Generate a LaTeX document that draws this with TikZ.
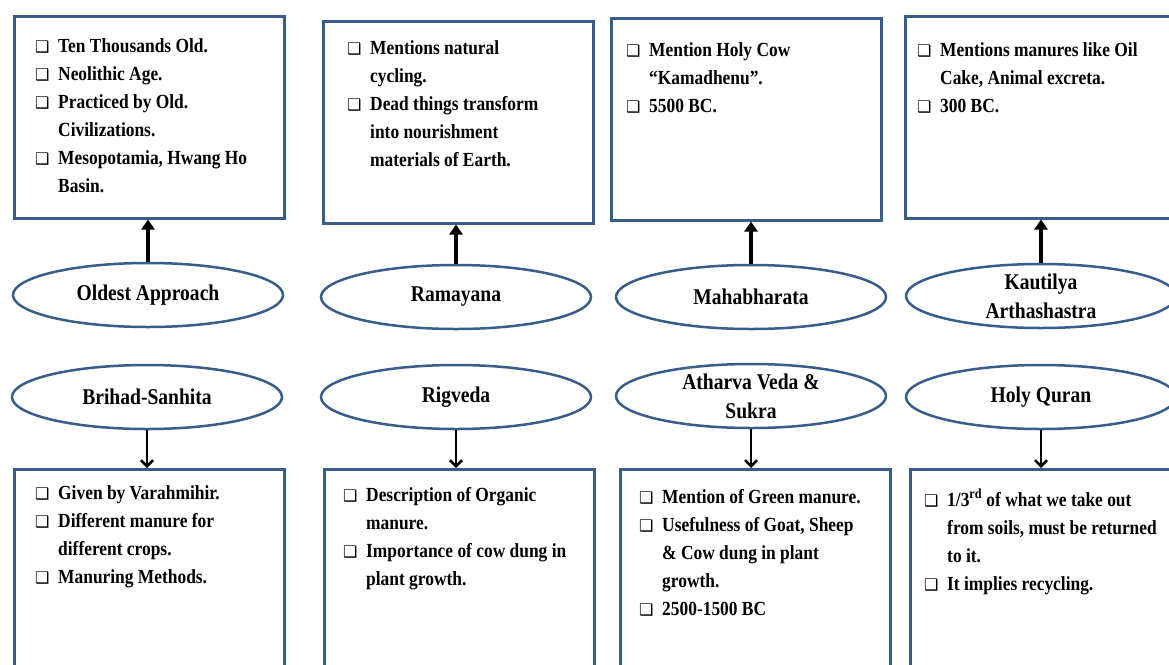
\documentclass[tikz,border=0pt]{standalone}
\usepackage{fontspec}
\setmainfont{Liberation Serif}[FakeStretch=0.87]
\newfontfamily\dejavu{DejaVu Sans}
\usetikzlibrary{shapes.geometric,arrows.meta}
\definecolor{edge}{RGB}{56,93,138}
\newcommand\bx{\makebox[23pt][l]{\raisebox{-0.5pt}{\dejavu\fontsize{16}{16}\selectfont ❑}}}
\newcommand\ind{\hspace*{23pt}}
\begin{document}
\begin{tikzpicture}[x=1pt,y=-1pt,
  box/.style={draw=edge, line width=2.5pt, fill=white, minimum width=270pt, minimum height=202pt, inner sep=0pt, anchor=north west},
  lowbox/.style={box, minimum height=215pt},
  oval/.style={ellipse, draw=edge, line width=2.5pt, fill=white, minimum width=270pt, minimum height=64pt, inner sep=0pt, align=center, font=\fontsize{22.5}{29}\selectfont\bfseries},
  txt/.style={anchor=north west, inner sep=0pt, align=left, font=\fontsize{20}{28}\selectfont\bfseries},
  uparr/.style={line width=3.2pt, -{Triangle[length=10pt,width=13pt]}},
  downarr/.style={line width=2.6pt, -{Straight Barb[length=6pt,width=12pt]}}]
\useasboundingbox (0,0) rectangle (1169,664);
\clip (0,0) rectangle (1169,664);
\fill[white] (0,0) rectangle (1169,664);
% top boxes
\node[box] (b1) at (13,15) {};
\node[box] (b2) at (322,20) {};
\node[box] (b3) at (610,17) {};
\node[box] (b4) at (904,15) {};
% bottom boxes
\node[lowbox] (c1) at (13,468) {};
\node[lowbox] (c2) at (323,468) {};
\node[lowbox] (c3) at (619,468) {};
\node[lowbox] (c4) at (909,468) {};
% top ellipses
\node[oval] (o1) at (148,295) {Oldest Approach};
\node[oval] (o2) at (456,297) {Ramayana};
\node[oval] (o3) at (751,297) {Mahabharata};
\node[oval] (o4) at (1041,296) {Kautilya\\Arthashastra};
% bottom ellipses
\node[oval] (e1) at (147,397) {Brihad-Sanhita};
\node[oval] (e2) at (456,397) {Rigveda};
\node[oval] (e3) at (751,396) {Atharva Veda \&\\Sukra};
\node[oval] (e4) at (1041,397) {Holy Quran};
% arrows
\draw[uparr] (o1.north) -- (o1.north |- b1.south);
\draw[uparr] (o2.north) -- (o2.north |- b2.south);
\draw[uparr] (o3.north) -- (o3.north |- b3.south);
\draw[uparr] (o4.north) -- (o4.north |- b4.south);
\draw[downarr] (e1.south) -- (e1.south |- c1.north);
\draw[downarr] (e2.south) -- (e2.south |- c2.north);
\draw[downarr] (e3.south) -- (e3.south |- c3.north);
\draw[downarr] (e4.south) -- (e4.south |- c4.north);
% texts
\node[txt] (t1) at (35,32.4) {\strut\bx Ten Thousands Old.\\ \bx Neolithic Age.\\ \bx Practiced by Old.\\ \ind Civilizations.\\ \bx Mesopotamia, Hwang Ho\\ \ind Basin.};
\node[txt] (t2) at (347,34.4) {\strut\bx Mentions natural\\ \ind cycling.\\ \bx Dead things transform\\ \ind into nourishment\\ \ind materials of Earth.};
\node[txt] (t3) at (626,36.4) {\strut\bx Mention Holy Cow\\ \ind “Kamadhenu”.\\ \bx 5500 BC.};
\node[txt] (t4) at (917,36.4) {\strut\bx Mentions manures like Oil\\ \ind Cake, Animal excreta.\\ \bx 300 BC.};
\node[txt] (u1) at (35,479.4) {\strut\bx Given by Varahmihir.\\ \bx Different manure for\\ \ind different crops.\\ \bx Manuring Methods.};
\node[txt] (u2) at (343,481.4) {\strut\bx Description of Organic\\ \ind manure.\\ \bx Importance of cow dung in\\ \ind plant growth.};
\node[txt] (u3) at (639,483.4) {\strut\bx Mention of Green manure.\\ \bx Usefulness of Goat, Sheep\\ \ind \& Cow dung in plant\\ \ind growth.\\ \bx 2500-1500 BC};
\node[txt] (u4) at (924,486.4) {\strut\bx 1/3\textsuperscript{rd} of what we take out\\ \ind from soils, must be returned\\ \ind to it.\\ \bx It implies recycling.};
\end{tikzpicture}
\end{document}
